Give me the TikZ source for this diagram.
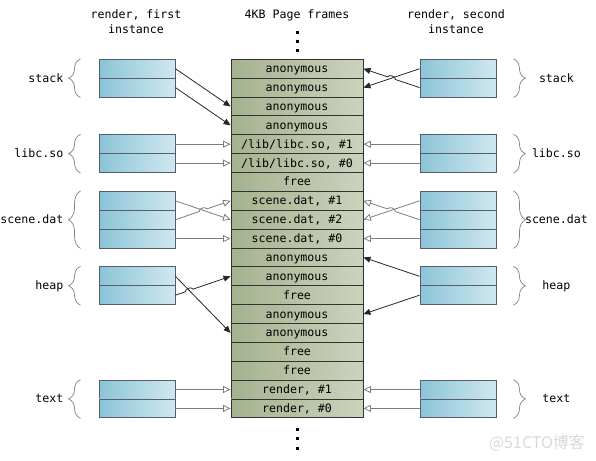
\documentclass[tikz,border=0pt]{standalone}
\usepackage{fontspec}
\setmainfont{DejaVu Sans Mono}
\newfontfamily\cjkfont{Noto Sans CJK SC}
\usetikzlibrary{arrows.meta,decorations.pathreplacing,calc,intersections}
\definecolor{pageL}{RGB}{165,178,142}
\definecolor{pageR}{RGB}{203,211,189}
\definecolor{boxL}{RGB}{140,196,216}
\definecolor{boxR}{RGB}{208,232,240}
\definecolor{cellline}{RGB}{85,95,105}
\definecolor{grayline}{RGB}{125,125,125}
\newcommand\myhop[6]{%
  \path[name path=hopA] (#2) -- (#3);
  \path[name path=hopB] (#4) -- (#5);
  \path[name intersections={of=hopA and hopB, by=hopX}];
  \draw[#1] (#2) -- ($(hopX)!4pt!(#2)$) to[#6=90] ($(hopX)!4pt!(#3)$) -- (#3);
}
\begin{document}
\begin{tikzpicture}[x=1pt,y=-1pt,
  every node/.style={font=\fontsize{11.6}{15}\selectfont},
  pagecell/.style={draw=black!80, line width=0.9pt, left color=pageL, right color=pageR, minimum width=132pt, minimum height=18.87pt, inner sep=0pt, text height=8pt, text depth=0pt},
  cellbox/.style={draw=cellline, line width=0.9pt, left color=boxL, right color=boxR, minimum width=76pt, minimum height=18.87pt, inner sep=0pt},
  lbl/.style={inner sep=0pt, text height=8pt, text depth=0pt},
  blk/.style={draw=black!85, line width=0.8pt, -{Triangle[length=7pt,width=6pt]}},
  gry/.style={draw=grayline, line width=0.8pt, -{Triangle[open,length=7.5pt,width=7pt]}},
  brc/.style={draw=gray, line width=0.7pt, decorate, decoration={brace, amplitude=12pt}},
  dotmark/.style={fill=black, minimum size=3pt, inner sep=0pt},
]
\useasboundingbox (0,0) rectangle (596,460);

% headers
\node[anchor=north, align=center, inner sep=0pt] (h1) at (136,9) {render, first\\instance};
\node[anchor=north, inner sep=0pt] (h2) at (297,9) {4KB Page frames};
\node[anchor=north, align=center, inner sep=0pt] (h3) at (456,9) {render, second\\instance};

% dots
\node[dotmark] (dt1) at (297,33) {};
\node[dotmark] (dt2) at (297,42) {};
\node[dotmark] (dt3) at (297,51) {};
\node[dotmark] (db1) at (297,429) {};
\node[dotmark] (db2) at (297,438) {};
\node[dotmark] (db3) at (297,448) {};

% page frames
\foreach \t [count=\i] in {anonymous,anonymous,anonymous,anonymous,{/lib/libc.so, \#1},{/lib/libc.so, \#0},free,{scene.dat, \#1},{scene.dat, \#2},{scene.dat, \#0},anonymous,anonymous,free,anonymous,anonymous,free,free,{render, \#1},{render, \#0}}{
  \node[pagecell] (p\i) at (297,{59.3+(\i-0.5)*18.87}) {\t};
}

% boxes
\foreach \g/\s/\n in {st/1/2,lc/5/2,sc/8/3,hp/12/2,tx/18/2}{
  \foreach \k in {1,...,\n}{
    \pgfmathsetmacro\yy{59.3+(\s+\k-1.5)*18.87}
    \node[cellbox] (L\g\k) at (137,\yy) {};
    \node[cellbox] (R\g\k) at (458,\yy) {};
  }
}

% braces and labels
\foreach \g/\n/\lab in {st/2/stack,lc/2/libc.so,sc/3/scene.dat,hp/2/heap,tx/2/text}{
  \draw[brc] ($(L\g\n.south west)+(-18,0)$) -- ($(L\g1.north west)+(-18,0)$);
  \node[lbl, anchor=east] (ll\g) at ($(L\g1.north west)!0.5!(L\g\n.south west)+(-35,0)$) {\lab};
  \draw[brc] ($(R\g1.north east)+(17,0)$) -- ($(R\g\n.south east)+(17,0)$);
  \node[lbl] (rl\g) at ($(R\g1.north east)!0.5!(R\g\n.south east)+(60,0)$) {\lab};
}

% left connectors
\draw[blk] (Lst1.east) -- (p3.west);
\draw[blk] (Lst2.east) -- (p4.west);
\draw[gry] (Llc1.east) -- (p5.west);
\draw[gry] (Llc2.east) -- (p6.west);
\draw[gry] (Lsc1.east) -- (p9.west);
\myhop{gry}{Lsc2.east}{p8.west}{Lsc1.east}{p9.west}{bend left}
\draw[gry] (Lsc3.east) -- (p10.west);
\draw[blk] (Lhp1.east) -- (p15.west);
\myhop{blk}{Lhp2.east}{p12.west}{Lhp1.east}{p15.west}{bend left}
\draw[gry] (Ltx1.east) -- (p18.west);
\draw[gry] (Ltx2.east) -- (p19.west);

% right connectors
\draw[blk] (Rst1.west) -- (p2.east);
\myhop{blk}{Rst2.west}{p1.east}{Rst1.west}{p2.east}{bend right}
\draw[gry] (Rlc1.west) -- (p5.east);
\draw[gry] (Rlc2.west) -- (p6.east);
\draw[gry] (Rsc1.west) -- (p9.east);
\myhop{gry}{Rsc2.west}{p8.east}{Rsc1.west}{p9.east}{bend right}
\draw[gry] (Rsc3.west) -- (p10.east);
\draw[blk] (Rhp1.west) -- (p11.east);
\draw[blk] (Rhp2.west) -- (p14.east);
\draw[gry] (Rtx1.west) -- (p18.east);
\draw[gry] (Rtx2.west) -- (p19.east);

% watermark
\node[text=gray!30, font=\cjkfont\fontsize{16}{16}\selectfont] (wm) at (537,443) {@51CTO博客};
\end{tikzpicture}
\end{document}
